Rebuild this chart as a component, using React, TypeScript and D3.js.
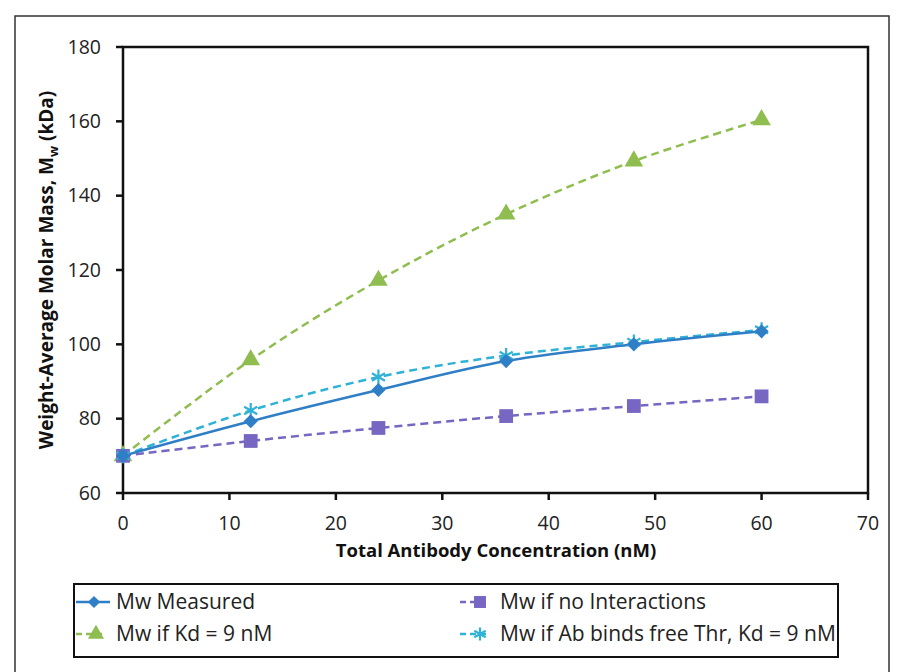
import { useEffect, useRef } from "react";
import * as d3 from "d3";

const concentrations = [0, 12, 24, 36, 48, 60];
const mwMeasured = [70, 79.3, 87.7, 95.5, 100, 103.5];
const mwNoInteractions = [70, 74, 77.5, 80.7, 83.4, 86];
const mwKd9 = [70, 95.8, 117.2, 135, 149.3, 160.4];
const mwAbFreeThr = [70, 82.2, 91.2, 97, 100.6, 103.9];

const xTicks = [0, 10, 20, 30, 40, 50, 60, 70];
const yTicks = [60, 80, 100, 120, 140, 160, 180];

const seriesNames = [
  "Mw Measured",
  "Mw if no Interactions",
  "Mw if Kd = 9 nM",
  "Mw if Ab binds free Thr, Kd = 9 nM",
];

const W = 899;
const H = 672;

export default function App() {
  const ref = useRef<SVGSVGElement>(null);

  useEffect(() => {
    const svg = d3.select(ref.current);
    svg.selectAll("*").remove();

    const font = "'Open Sans', sans-serif";
    const x = d3.scaleLinear().domain([0, 70]).range([123, 868]);
    const y = d3.scaleLinear().domain([60, 180]).range([493, 47]);

    const series = [
      { name: seriesNames[0], values: mwMeasured, color: "#2f7fc6", dash: null, symbol: d3.symbolSquare, size: 100, rot: 45, stroked: false },
      { name: seriesNames[1], values: mwNoInteractions, color: "#7766c2", dash: "8,5", symbol: d3.symbolSquare, size: 190, rot: 0, stroked: false },
      { name: seriesNames[2], values: mwKd9, color: "#8fbd4f", dash: "8,5", symbol: d3.symbolTriangle, size: 150, rot: 0, stroked: false },
      { name: seriesNames[3], values: mwAbFreeThr, color: "#2fb2d6", dash: "8,5", symbol: d3.symbolAsterisk, size: 160, rot: 0, stroked: true },
    ];

    // outer frame
    svg.append("rect")
      .attr("x", 15).attr("y", 16)
      .attr("width", 874).attr("height", 680)
      .attr("fill", "white")
      .attr("stroke", "#333").attr("stroke-width", 1.5);

    // plot area box
    svg.append("rect")
      .attr("x", 123).attr("y", 47)
      .attr("width", 868 - 123).attr("height", 493 - 47)
      .attr("fill", "white")
      .attr("stroke", "#111").attr("stroke-width", 2.5);

    // y ticks + labels
    const yAxis = svg.append("g");
    yTicks.forEach(t => {
      yAxis.append("line")
        .attr("x1", 116).attr("x2", 123)
        .attr("y1", y(t)).attr("y2", y(t))
        .attr("stroke", "#111").attr("stroke-width", 2.5);
      yAxis.append("text")
        .attr("x", 101).attr("y", y(t))
        .attr("dy", "0.35em")
        .attr("text-anchor", "end")
        .style("font-family", font).style("font-size", "19.5px")
        .attr("fill", "#222")
        .text(t);
    });

    // x ticks + labels
    const xAxis = svg.append("g");
    xTicks.forEach(t => {
      xAxis.append("line")
        .attr("x1", x(t)).attr("x2", x(t))
        .attr("y1", 493).attr("y2", 500)
        .attr("stroke", "#111").attr("stroke-width", 2.5);
      xAxis.append("text")
        .attr("x", x(t)).attr("y", 530)
        .attr("text-anchor", "middle")
        .style("font-family", font).style("font-size", "19.5px")
        .attr("fill", "#222")
        .text(t);
    });

    // axis titles
    svg.append("text")
      .attr("x", 496).attr("y", 557)
      .attr("text-anchor", "middle")
      .style("font-family", font).style("font-size", "18.5px").style("font-weight", "bold")
      .attr("fill", "#111")
      .text("Total Antibody Concentration (nM)");

    const yTitle = svg.append("text")
      .attr("transform", "translate(53, 270) rotate(-90)")
      .attr("text-anchor", "middle")
      .style("font-family", font).style("font-size", "19px").style("font-weight", "bold")
      .attr("fill", "#111");
    yTitle.append("tspan").text("Weight-Average Molar Mass, M");
    yTitle.append("tspan").attr("dy", 5).style("font-size", "13px").text("w");
    yTitle.append("tspan").attr("dy", -5).text(" (kDa)");

    // lines
    const line = d3.line<number>()
      .x((_, i) => x(concentrations[i]))
      .y(d => y(d))
      .curve(d3.curveCatmullRom);

    const drawMarker = (g: any, s: any, cx: number, cy: number) => {
      const path = d3.symbol().type(s.symbol).size(s.size)();
      g.append("path")
        .attr("d", path)
        .attr("transform", `translate(${cx},${cy}) rotate(${s.rot})`)
        .attr("fill", s.stroked ? "none" : s.color)
        .attr("stroke", s.color)
        .attr("stroke-width", s.stroked ? 2.2 : 0);
    };

    // draw lines in order: green, purple, cyan, blue
    const order = [2, 1, 3, 0];
    order.forEach(k => {
      const s = series[k];
      svg.append("path")
        .datum(s.values)
        .attr("d", line)
        .attr("fill", "none")
        .attr("stroke", s.color)
        .attr("stroke-width", 2.5)
        .attr("stroke-dasharray", s.dash);
    });
    order.forEach(k => {
      const s = series[k];
      const g = svg.append("g");
      s.values.forEach((v, i) => drawMarker(g, s, x(concentrations[i]), y(v)));
    });

    // legend
    svg.append("rect")
      .attr("x", 74).attr("y", 584)
      .attr("width", 838 - 74).attr("height", 657 - 584)
      .attr("fill", "white")
      .attr("stroke", "#111").attr("stroke-width", 2);

    const legendPos = [
      { lx: 76, ty: 602 },
      { lx: 460, ty: 602 },
      { lx: 76, ty: 634 },
      { lx: 460, ty: 634 },
    ];
    series.forEach((s, i) => {
      const p = legendPos[i];
      const g = svg.append("g");
      g.append("line")
        .attr("x1", p.lx).attr("x2", s.dash ? p.lx + 30 : p.lx + 34)
        .attr("y1", p.ty).attr("y2", p.ty)
        .attr("stroke", s.color).attr("stroke-width", 2.5)
        .attr("stroke-dasharray", s.dash ? "6,4" : null);
      drawMarker(g, { ...s, size: s.size * 0.75 }, s.dash ? p.lx + 20 : p.lx + 18, p.ty);
      g.append("text")
        .attr("x", p.lx + 40).attr("y", p.ty)
        .attr("dy", "0.35em")
        .style("font-family", font).style("font-size", "21px")
        .attr("fill", "#222")
        .text(s.name);
    });
  }, []);

  return (
    <svg
      ref={ref}
      width={W}
      height={H}
      style={{ position: "absolute", left: 0, top: 0, background: "white" }}
    />
  );
}
